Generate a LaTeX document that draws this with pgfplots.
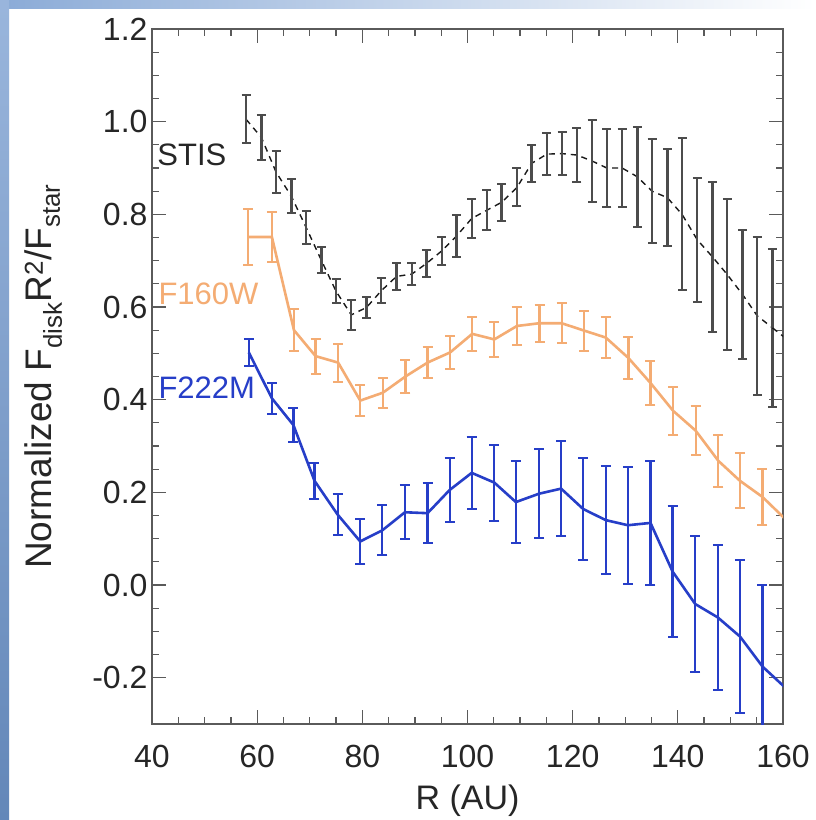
\documentclass[border=0pt]{standalone}
\usepackage{pgfplots}
\pgfplotsset{compat=1.18}
\usepackage{fontspec}
\setmainfont{Liberation Sans}
\definecolor{stis}{RGB}{25,25,25}
\definecolor{orng}{RGB}{244,172,115}
\definecolor{blu}{RGB}{38,62,200}
\definecolor{frame}{RGB}{90,90,90}
\definecolor{slide}{RGB}{110,150,205}
\pgfplotstableread{
x y e
57.9 1.005 0.052
60.8 0.966 0.048
63.6 0.891 0.046
66.5 0.839 0.037
69.3 0.772 0.035
72.2 0.701 0.028
75.0 0.634 0.026
77.9 0.583 0.033
80.8 0.599 0.023
83.6 0.635 0.027
86.5 0.666 0.029
89.4 0.671 0.024
92.2 0.694 0.029
95.1 0.721 0.030
97.9 0.753 0.045
100.8 0.791 0.043
103.7 0.809 0.043
106.5 0.826 0.040
109.4 0.858 0.041
112.2 0.910 0.040
115.1 0.930 0.045
118.0 0.931 0.047
120.8 0.928 0.058
123.7 0.915 0.088
126.5 0.900 0.085
129.4 0.900 0.085
132.3 0.881 0.108
135.1 0.850 0.112
138.0 0.836 0.104
140.8 0.800 0.164
143.7 0.745 0.134
146.6 0.708 0.162
149.4 0.670 0.163
152.3 0.627 0.140
155.1 0.581 0.170
158.0 0.555 0.170
}\stisdata
\pgfplotstableread{
x y
158.0 0.555
162.0 0.519
}\stisend
\pgfplotstableread{
x y e
58.3 0.751 0.060
62.8 0.751 0.054
67.0 0.550 0.046
71.1 0.494 0.038
75.4 0.480 0.041
79.6 0.398 0.034
83.9 0.415 0.032
88.2 0.450 0.035
92.4 0.480 0.034
96.7 0.502 0.036
100.9 0.542 0.037
105.1 0.530 0.038
109.4 0.559 0.040
113.7 0.565 0.040
117.9 0.565 0.043
122.2 0.549 0.043
126.3 0.534 0.045
130.6 0.490 0.046
134.8 0.436 0.048
139.1 0.376 0.052
143.4 0.333 0.053
147.7 0.268 0.056
151.8 0.225 0.059
156.1 0.190 0.060
}\fsixty
\pgfplotstableread{
x y
156.1 0.190
162.0 0.125
}\fsixtyend
\pgfplotstableread{
x y e
58.4 0.502 0.029
62.8 0.403 0.033
66.9 0.345 0.036
70.9 0.225 0.039
75.3 0.152 0.044
79.6 0.094 0.049
83.8 0.118 0.054
88.1 0.157 0.058
92.4 0.155 0.065
96.6 0.205 0.070
100.8 0.242 0.078
105.1 0.221 0.082
109.2 0.179 0.089
113.6 0.197 0.096
117.8 0.208 0.102
122.0 0.164 0.110
126.3 0.140 0.116
130.5 0.129 0.126
134.8 0.134 0.133
139.0 0.029 0.142
143.3 -0.041 0.147
147.6 -0.070 0.156
151.8 -0.111 0.165
156.1 -0.176 0.176
}\ftwotwo
\pgfplotstableread{
x y
156.1 -0.176
162.0 -0.238
}\ftwotwoend
\begin{document}
\begin{tikzpicture}
\useasboundingbox (0pt,0pt) rectangle (815pt,820pt);
\fill[white] (0pt,0pt) rectangle (815pt,820pt);
\shade[left color=slide!80, right color=white] (0pt,811pt) rectangle (815pt,820pt);
\shade[top color=slide!70, bottom color=slide!90!black] (0pt,0pt) rectangle (9pt,820pt);
\begin{axis}[
  at={(152pt,96pt)}, anchor=south west,
  scale only axis, width=631pt, height=695pt,
  xmin=40, xmax=160, ymin=-0.3, ymax=1.2,
  xtick={40,60,80,100,120,140,160},
  xticklabels={40,60,80,100,120,140,160},
  ytick={-0.2,0,0.2,0.4,0.6,0.8,1.0,1.2},
  yticklabels={-0.2,0.0,0.2,0.4,0.6,0.8,1.0,1.2},
  minor x tick num=3, minor y tick num=3,
  tick align=inside,
  major tick length=14pt, minor tick length=7pt,
  axis line style={frame, line width=1.6pt},
  every tick/.style={frame, line width=1.3pt},
  ticklabel style={font=\fontsize{32}{38}\selectfont, text=black!85},
  xticklabel style={yshift=-18pt},
  yticklabel style={xshift=-1pt},
  xlabel={R (AU)},
  xlabel style={font=\fontsize{34}{40}\selectfont, text=black!85, at={(axis description cs:0.5,-0.110)}, anchor=center},
  ylabel={Normalized F\textsubscript{disk}R\textsuperscript{2}/F\textsubscript{star}},
  ylabel style={font=\fontsize{37}{44}\selectfont, text=black!85, at={(axis description cs:-0.172,0.5)}, anchor=center},
  clip=true,
]
\addplot[stis, line width=1.4pt, dash pattern=on 6pt off 5pt,
  error bars/.cd, y dir=both, y explicit,
  error bar style={line width=2.4pt, solid, black!70},
  error mark options={rotate=90, mark size=4.5pt, line width=2pt, solid, black!70}]
  table[x=x, y=y, y error=e]{\stisdata};
\addplot[stis, line width=1.4pt, dash pattern=on 6pt off 5pt, forget plot] table[x=x, y=y]{\stisend};
\addplot[orng, line width=2.6pt,
  error bars/.cd, y dir=both, y explicit,
  error bar style={line width=2.2pt, orng},
  error mark options={rotate=90, mark size=5pt, line width=2pt, orng}]
  table[x=x, y=y, y error=e]{\fsixty};
\addplot[orng, line width=2.6pt, forget plot] table[x=x, y=y]{\fsixtyend};
\addplot[blu, line width=2.6pt,
  error bars/.cd, y dir=both, y explicit,
  error bar style={line width=2.2pt, blu},
  error mark options={rotate=90, mark size=5pt, line width=2pt, blu}]
  table[x=x, y=y, y error=e]{\ftwotwo};
\addplot[blu, line width=2.6pt, forget plot] table[x=x, y=y]{\ftwotwoend};
\node[anchor=west, inner sep=0pt, text=black!85, font=\fontsize{31}{36}\selectfont] at (axis cs:41,0.928) {STIS};
\node[anchor=west, inner sep=0pt, text=orng, font=\fontsize{31}{36}\selectfont] at (axis cs:41.2,0.628) {F160W};
\node[anchor=west, inner sep=0pt, text=blu, font=\fontsize{31}{36}\selectfont] at (axis cs:41.2,0.425) {F222M};
\end{axis}
\end{tikzpicture}
\end{document}
